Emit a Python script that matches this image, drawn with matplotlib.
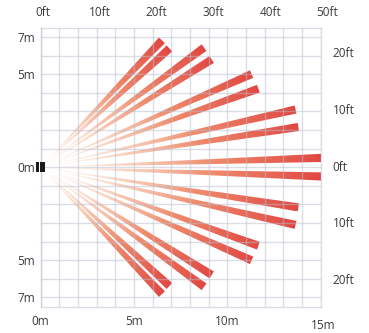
## Importing necessary libraries ##

import numpy as np
import matplotlib
matplotlib.use('Agg')
import matplotlib.pyplot as plt
from matplotlib.colors import LinearSegmentedColormap
from matplotlib.patches import Polygon, Rectangle

plt.rcParams['font.family'] = ['Open Sans', 'DejaVu Sans']

## Ray data: angle above the axis (deg) and reach (m), mirrored below ##

ray_angles = [46.4, 42.8, 36.3, 32.3, 23.9, 19.9, 12.8, 8.9, 1.9]
ray_lengths = [9.42, 9.40, 10.86, 10.84, 12.36, 12.40, 14.0, 13.97, 15.05]

## Tick positions and labels ##

m_x_ticks = [0, 5, 10]
m_x_labels = ['0m', '5m', '10m']
m_y_ticks = [-7, -5, 0, 5, 7]
m_y_labels = ['7m', '5m', '0m', '5m', '7m']
ft_x_ticks = [0, 10, 20, 30, 40, 50]
ft_y_ticks = [-20, -10, 0, 10, 20]

FT = 0.3048
text_color = '#3a3a3a'
grid_color = '#b9c0cc'
half_width = 0.22  # half width of a ray at its tip (m)

ray_cmap = LinearSegmentedColormap.from_list('ray', [
    (0.0, (1.0, 0.86, 0.8, 0.0)),
    (0.3, (0.97, 0.72, 0.6, 0.6)),
    (0.6, (0.94, 0.55, 0.43, 1.0)),
    (1.0, (0.88, 0.28, 0.26, 1.0)),
])

fig = plt.figure(figsize=(3.69, 3.33), dpi=100)
ax = fig.add_axes([40.7 / 369, 26.3 / 333, 280 / 369, 279 / 333])
ax.set_xlim(0, 15)
ax.set_ylim(-7.5, 7.5)

## Draw the rays as gradient images clipped to thin wedges ##

for sign in (1, -1):
    for ang, length in zip(ray_angles, ray_lengths):
        th = np.radians(sign * ang)
        u = np.array([np.cos(th), np.sin(th)])
        n = np.array([-np.sin(th), np.cos(th)])
        tip = length * u
        verts = np.array([[0, 0], tip + half_width * n, tip - half_width * n])
        wedge = Polygon(verts, closed=True, facecolor='none', edgecolor='none')
        ax.add_patch(wedge)
        x0, y0 = verts.min(axis=0)
        x1, y1 = verts.max(axis=0)
        xs = np.linspace(x0, x1, 300)
        ys = np.linspace(y0, y1, 300)
        gx, gy = np.meshgrid(xs, ys)
        t = np.clip((gx * u[0] + gy * u[1]) / length, 0, 1)
        im = ax.imshow(t, cmap=ray_cmap, vmin=0, vmax=1, origin='lower',
                       extent=[x0, x1, y0, y1], interpolation='bilinear',
                       aspect='auto', zorder=1)
        im.set_clip_path(wedge)

ax.set_xlim(0, 15)
ax.set_ylim(-7.5, 7.5)
ax.set_aspect('auto')

## Grid every metre ##

for xv in range(0, 16):
    ax.axvline(xv, color=grid_color, lw=1.0, alpha=0.5, zorder=2)
for yv in range(-7, 8):
    ax.axhline(yv, color=grid_color, lw=1.0, alpha=0.5, zorder=2)
for sp in ax.spines.values():
    sp.set_color(grid_color)
    sp.set_alpha(0.5)
    sp.set_linewidth(1.0)

## Sensor box ##

ax.add_patch(Rectangle((-0.25, -0.26), 0.17, 0.52, facecolor='#1b1b1b',
                       edgecolor='none', zorder=5, clip_on=False))
ax.add_patch(Rectangle((-0.04, -0.26), 0.26, 0.52, facecolor='#1b1b1b',
                       edgecolor='none', zorder=5, clip_on=False))

## Metre labels ##

ax.set_xticks(m_x_ticks)
ax.set_xticklabels(m_x_labels)
ax.set_yticks(m_y_ticks)
ax.set_yticklabels(m_y_labels)
ax.tick_params(axis='x', length=0, pad=6, labelsize=8.5, labelcolor=text_color)
ax.tick_params(axis='y', length=0, pad=4, labelsize=8.5, labelcolor=text_color)
ax.annotate('15m', xy=(15, -7.5), xytext=(2, -13.5), textcoords='offset points',
            ha='center', va='center', fontsize=8.5, color=text_color,
            annotation_clip=False)

## Feet labels ##

for v in ft_x_ticks:
    ax.annotate(f'{v}ft', xy=(v * FT, 7.5), xytext=(1.5, 11), textcoords='offset points',
                ha='center', va='center', fontsize=8.5, color=text_color,
                annotation_clip=False)
for v in ft_y_ticks:
    ax.annotate(f'{abs(v)}ft', xy=(15, v * FT), xytext=(8.5, 0), textcoords='offset points',
                ha='left', va='center', fontsize=8.5, color=text_color,
                annotation_clip=False)

fig.savefig('out.png', dpi=100)
